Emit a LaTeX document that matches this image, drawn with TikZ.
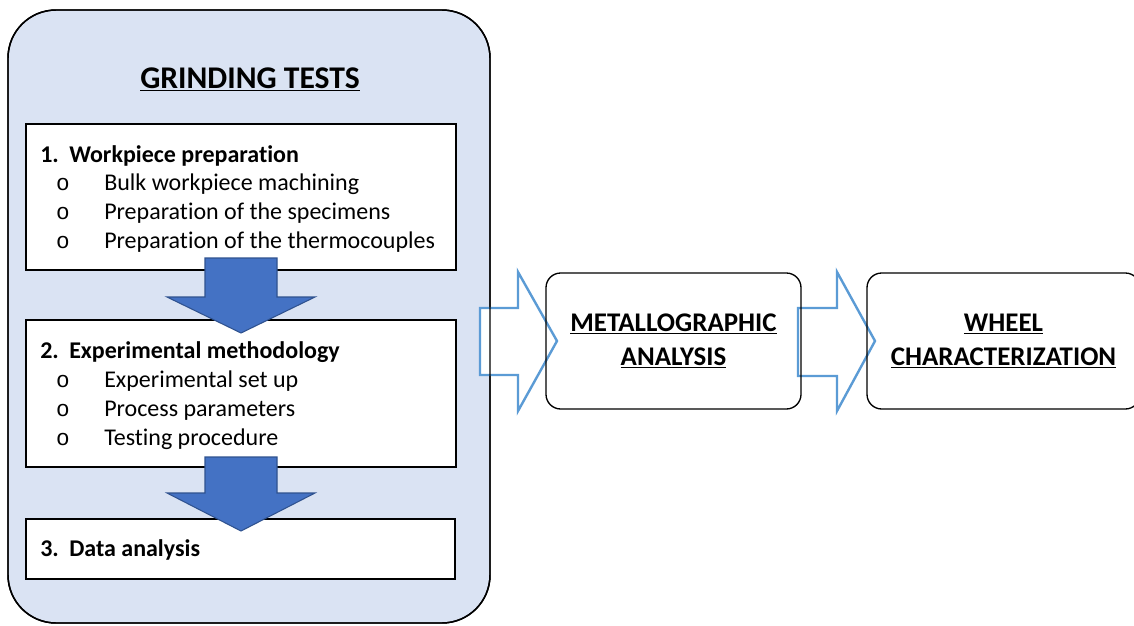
\documentclass[tikz,border=0pt]{standalone}
\usepackage{fontspec}
\setmainfont{Carlito}[Ligatures=NoCommon]
\newfontfamily\bulletfont{Liberation Mono}
\definecolor{panel}{HTML}{DAE3F3}
\definecolor{fillblue}{HTML}{4472C4}
\definecolor{edgeblue}{HTML}{2F528F}
\definecolor{lineblue}{HTML}{5B9BD5}
\tikzset{
  bigbox/.style={draw=black, line width=1.1pt, rounded corners=36pt, rectangle, inner sep=0pt, outer sep=0pt},
  stepbox/.style={draw=black, line width=0.9pt, fill=white, rectangle, inner sep=0pt, outer sep=0pt},
  rbox/.style={draw=black, line width=1pt, rounded corners=11pt, rectangle, inner sep=0pt, outer sep=0pt,
    align=center, font=\fontsize{20.2}{25.5}\selectfont\bfseries},
  downarrow/.style={fill=fillblue, draw=edgeblue, line width=0.8pt, line join=miter},
  hollowarrow/.style={fill=white, draw=lineblue, line width=1.8pt, line join=miter},
  head/.style={anchor=base west, inner sep=0pt, font=\fontsize{18}{21.75}\selectfont\bfseries},
  item/.style={anchor=base west, inner sep=0pt, font=\fontsize{18}{21.75}\selectfont},
  bul/.style={anchor=base, inner sep=0pt, font=\fontsize{17}{20}\bulletfont},
}
\begin{document}
\begin{tikzpicture}[x=0.75pt, y=-0.75pt]
\useasboundingbox (0,0) rectangle (1134,625);
\fill[white] (0,0) rectangle (1134,625);

% big panel
\node[bigbox, fill=panel, minimum width=361.5pt, minimum height=459.75pt] (panel) at (249,316.5) {};
\node[anchor=base, inner sep=0pt, font=\fontsize{23.7}{28}\selectfont\bfseries] (title) at (250,88) {\underline{GRINDING TESTS}};

% step boxes
\node[stepbox, minimum width=322.5pt, minimum height=109.5pt] (b1) at (241,197) {};
\node[stepbox, minimum width=322.5pt, minimum height=110.25pt] (b2) at (241,393.5) {};
\node[stepbox, minimum width=321.75pt, minimum height=45pt] (b3) at (240.5,549) {};

% box 1 text
\node[head] (h1n) at (40,162) {1.};
\node[head] (h1) at (69,162) {Workpiece preparation};
\node[bul] (o11) at (63,190) {o};
\node[item] (i11) at (104,190) {Bulk workpiece machining};
\node[bul] (o12) at (63,219) {o};
\node[item] (i12) at (104,219) {Preparation of the specimens};
\node[bul] (o13) at (63,248) {o};
\node[item] (i13) at (104,248) {Preparation of the thermocouples};

% box 2 text
\node[head] (h2n) at (40,358) {2.};
\node[head] (h2) at (69,358) {Experimental methodology};
\node[bul] (o21) at (63,387) {o};
\node[item] (i21) at (104,387) {Experimental set up};
\node[bul] (o22) at (63,416) {o};
\node[item] (i22) at (104,416) {Process parameters};
\node[bul] (o23) at (63,445) {o};
\node[item] (i23) at (104,445) {Testing procedure};

% box 3 text
\node[head] (h3n) at (40,556) {3.};
\node[head] (h3) at (69,556) {Data analysis};

% down arrows
\draw[downarrow] (205,258) -- (277,258) -- (277,297) -- (315,297) -- (241,333) -- (167,297) -- (205,297) -- cycle;
\draw[downarrow] (205,457) -- (277,457) -- (277,493) -- (315,493) -- (241,531) -- (167,493) -- (205,493) -- cycle;

% hollow arrows
\draw[hollowarrow] (480,308) -- (518,308) -- (518,272) -- (557,341) -- (518,411) -- (518,375) -- (480,375) -- cycle;
\draw[hollowarrow] (798,308) -- (837,308) -- (837,272) -- (875,341) -- (837,411) -- (837,376) -- (798,376) -- cycle;

% panel border on top
\node[bigbox, minimum width=361.5pt, minimum height=459.75pt] (panelb) at (249,316.5) {};

% right boxes
\node[rbox, minimum width=191.25pt, minimum height=102pt] (met) at (673.5,341) {\underline{METALLOGRAPHIC}\\\underline{ANALYSIS}};
\node[rbox, minimum width=204.75pt, minimum height=102pt] (wheel) at (1003.5,341) {\underline{WHEEL}\\\underline{CHARACTERIZATION}};
\end{tikzpicture}
\end{document}
